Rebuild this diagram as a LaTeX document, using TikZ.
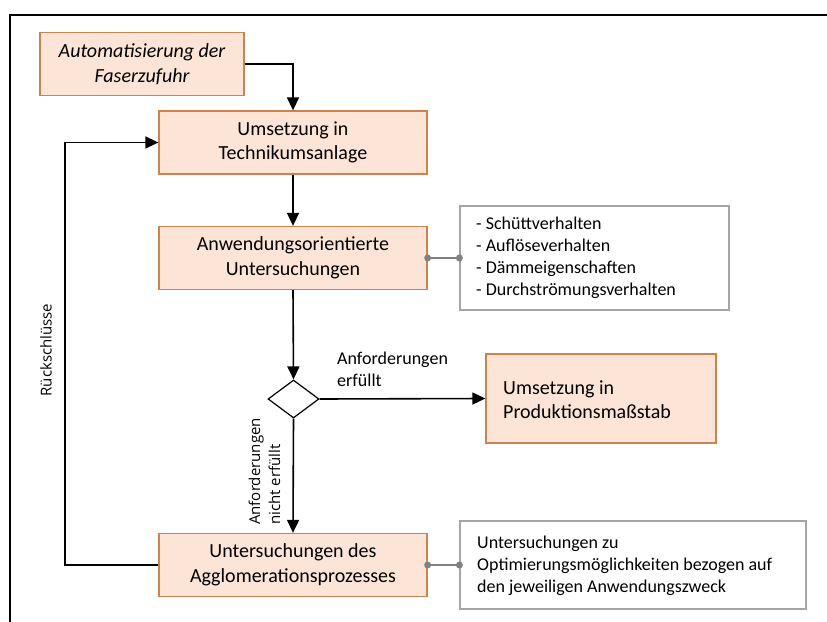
\documentclass[tikz,border=0pt]{standalone}
\usepackage{fontspec}
\setmainfont{Carlito}
\newfontfamily\osans{Open Sans}
\usetikzlibrary{shapes.geometric,arrows.meta}
\definecolor{peach}{RGB}{252,228,214}
\definecolor{peachborder}{RGB}{205,130,80}
\definecolor{dotgray}{RGB}{128,128,128}
\definecolor{boxgray}{RGB}{165,165,165}
\begin{document}
\begin{tikzpicture}[x=1pt,y=-1pt,
  proc/.style={draw=peachborder,fill=peach,line width=1.3pt,minimum width=268pt,minimum height=63pt,inner sep=0pt,align=center,font=\fontsize{20}{24.5}\selectfont},
  note/.style={draw=boxgray,line width=1.2pt,inner sep=0pt},
  flow/.style={line width=1.6pt,-{Triangle[length=13pt,width=12pt]}},
  link/.style={draw=dotgray,line width=1.5pt},
  dot/.style={circle,fill=dotgray,inner sep=0pt,minimum size=7pt},
  small/.style={font=\fontsize{18}{22}\selectfont,align=left,inner sep=0pt},
  rlab/.style={font=\osans\fontsize{15}{20}\selectfont,inner sep=0pt}]
\useasboundingbox (0,0) rectangle (827,621);
\fill[white] (0,0) rectangle (827,621);
\draw[line width=2.3pt] (840,15) -- (10,15) -- (10,640);

\node[proc,minimum width=204pt,minimum height=63pt,font=\fontsize{20}{24.5}\selectfont\itshape] (auto) at (142,64) {Automatisierung der\\Faserzufuhr};
\node[proc] (tech) at (293,142.5) {Umsetzung in\\Technikumsanlage};
\node[proc] (anw) at (293,258) {Anwendungsorientierte\\Untersuchungen};
\node[draw,diamond,line width=1.2pt,minimum width=51pt,minimum height=38pt,inner sep=0pt] (dec) at (293.5,399) {};
\node[proc,minimum width=230pt,minimum height=89pt] (prod) at (601,398.5) {};
\node[anchor=west,inner sep=0pt,align=left,font=\fontsize{20}{24.5}\selectfont] (prodtxt) at (503,399.5) {Umsetzung in\\Produktionsmaßstab};
\node[proc] (agg) at (293,565) {Untersuchungen des\\Agglomerationsprozesses};

\node[note,minimum width=269pt,minimum height=104pt] (list) at (594.5,258) {};
\node[small,anchor=west] (listtxt) at (476,258) {- Schüttverhalten\\- Auflöseverhalten\\- Dämmeigenschaften\\- Durchströmungsverhalten};
\node[note,minimum width=346pt,minimum height=88pt] (opt) at (633,565) {};
\node[small,anchor=west] (opttxt) at (477,566) {Untersuchungen zu\\Optimierungsmöglichkeiten bezogen auf\\den jeweiligen Anwendungszweck};

\draw[flow] (auto.east) -| (tech.north);
\draw[flow] (tech.south) -- (anw.north);
\draw[flow] (anw.south) -- (dec.north);
\draw[flow] (dec.east) -- (prod.west);
\draw[flow] (dec.south) -- (agg.north);
\coordinate (fbl) at (65,565);
\coordinate (fbt) at (65,142.5);
\draw[flow] (agg.west) -- (fbl) -- (fbt) -- (tech.west);

\draw[link] (anw.east) -- (list.west);
\node[dot] (d1) at (anw.east) {};
\node[dot] (d2) at (list.west) {};
\draw[link] (agg.east) -- (opt.west);
\node[dot] (d3) at (agg.east) {};
\node[dot] (d4) at (opt.west) {};

\node[small,anchor=west] (yes) at (337,369.5) {Anforderungen\\erfüllt};
\node[rlab,rotate=90,align=left,anchor=west] (no) at (264.5,525) {Anforderungen\\nicht erfüllt};
\node[rlab,rotate=90] (rs) at (46,350) {Rückschlüsse};
\end{tikzpicture}
\end{document}
